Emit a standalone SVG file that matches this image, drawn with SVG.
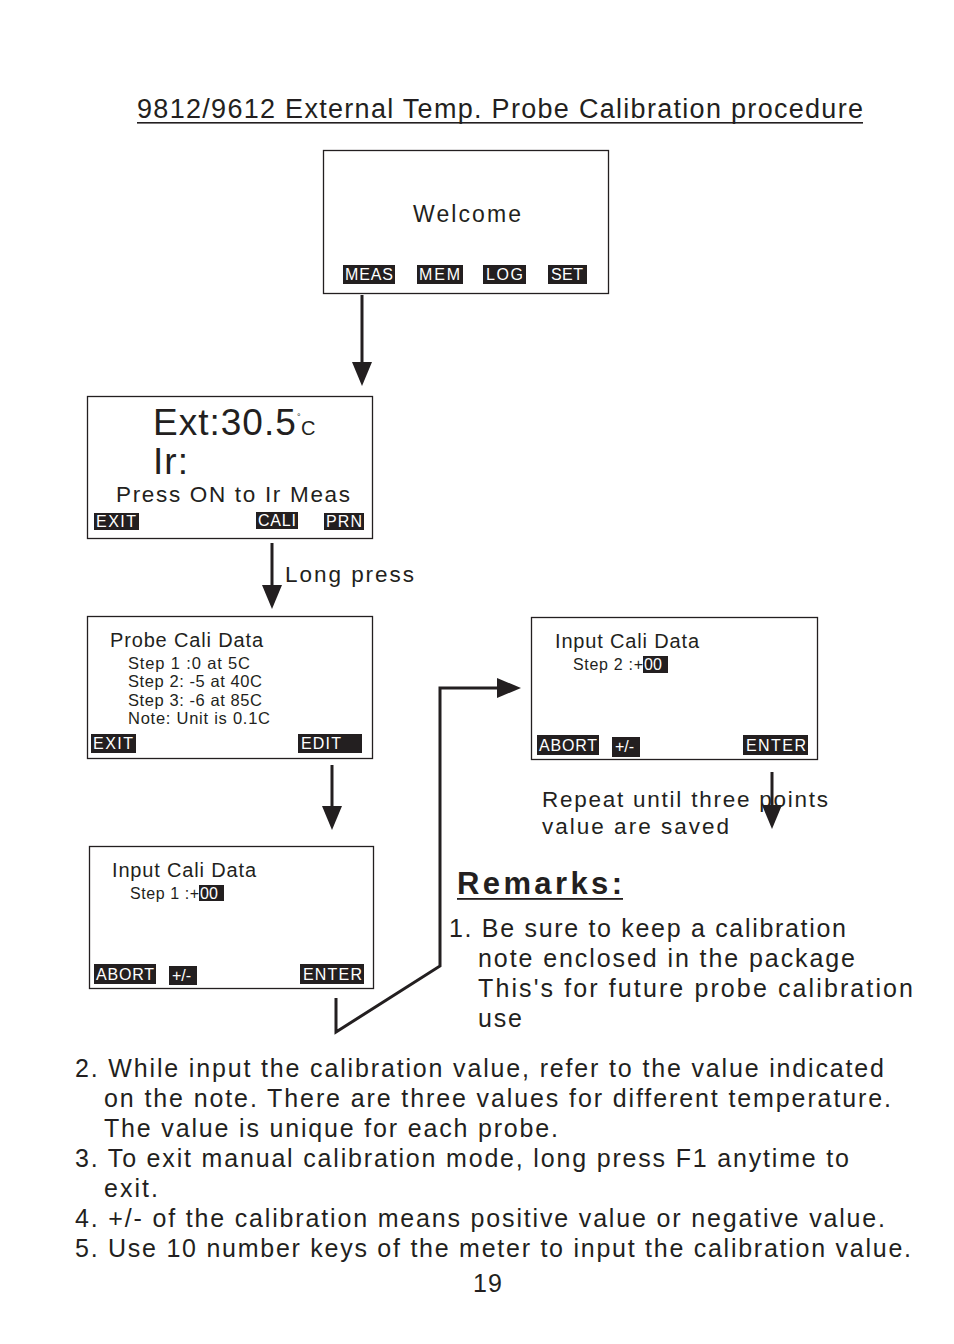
<svg xmlns="http://www.w3.org/2000/svg" width="954" height="1344" viewBox="0 0 954 1344">
<style>
text{font-family:"Liberation Sans",Arial,sans-serif;fill:#231f20}
.box{fill:#fff;stroke:#231f20;stroke-width:1.3}
.bk{fill:#231f20}
.btn{fill:#fff;font-size:16px}
.ln{fill:none;stroke:#231f20;stroke-width:3}
.t23{font-size:25px}
</style>
<defs>
<marker id="ah" markerUnits="userSpaceOnUse" markerWidth="26" markerHeight="22" refX="1" refY="10" orient="auto" viewBox="0 0 26 22">
<path d="M0,0 L24,10 L0,20 z" fill="#231f20"/>
</marker>
</defs>
<rect width="954" height="1344" fill="#fff"/>
<g id="title">
<text x="137" y="118" font-size="27" textLength="726" lengthAdjust="spacing">9812/9612 External Temp. Probe  Calibration procedure</text>
<rect x="137" y="122" width="726" height="1.6" class="bk"/>
</g>
<g id="welcome">
<rect x="323.5" y="150.5" width="285" height="143" class="box"/>
<text x="413" y="222" font-size="23" textLength="108" lengthAdjust="spacing">Welcome</text>
<rect x="343" y="265" width="52" height="19" class="bk"/>
<text x="345" y="280" class="btn" textLength="48" lengthAdjust="spacing">MEAS</text>
<rect x="417" y="265" width="46" height="19" class="bk"/>
<text x="419" y="280" class="btn" textLength="41" lengthAdjust="spacing">MEM</text>
<rect x="483" y="265" width="43" height="19" class="bk"/>
<text x="486" y="280" class="btn" textLength="37" lengthAdjust="spacing">LOG</text>
<rect x="548" y="265" width="39" height="19" class="bk"/>
<text x="551" y="280" class="btn" textLength="32" lengthAdjust="spacing">SET</text>
</g>
<g id="measure">
<rect x="87.5" y="396.5" width="285" height="142" class="box"/>
<text x="153" y="435" font-size="37" letter-spacing="1">Ext:30.5<tspan font-size="9" x="297" dy="-15" letter-spacing="0">°</tspan><tspan font-size="20" x="301" dy="15" letter-spacing="0">C</tspan></text>
<text x="153" y="474" font-size="37" textLength="35" lengthAdjust="spacing">Ir:</text>
<text x="116" y="502" font-size="22.5" textLength="234" lengthAdjust="spacing">Press ON to Ir Meas</text>
<rect x="94" y="513" width="45" height="17" class="bk"/>
<text x="96" y="527" class="btn" textLength="40" lengthAdjust="spacing">EXIT</text>
<rect x="256" y="512" width="42" height="17" class="bk"/>
<text x="258" y="526" class="btn" textLength="38" lengthAdjust="spacing">CALI</text>
<rect x="324" y="513" width="40" height="17" class="bk"/>
<text x="326" y="527" class="btn" textLength="36" lengthAdjust="spacing">PRN</text>
</g>
<g id="probe-cali">
<rect x="87.5" y="616.5" width="285" height="142" class="box"/>
<text x="110" y="647" font-size="20" textLength="153" lengthAdjust="spacing">Probe Cali Data</text>
<text x="128" y="669" font-size="16.5" textLength="122" lengthAdjust="spacing">Step 1 :0 at  5C</text>
<text x="128" y="687" font-size="16.5" textLength="134" lengthAdjust="spacing">Step 2: -5 at 40C</text>
<text x="128" y="706" font-size="16.5" textLength="134" lengthAdjust="spacing">Step 3: -6 at 85C</text>
<text x="128" y="724" font-size="16.5" textLength="142" lengthAdjust="spacing">Note: Unit is 0.1C</text>
<rect x="91" y="734" width="45" height="19" class="bk"/>
<text x="93" y="749" class="btn" textLength="40" lengthAdjust="spacing">EXIT</text>
<rect x="298" y="734" width="64" height="19" class="bk"/>
<text x="301" y="749" class="btn" textLength="40" lengthAdjust="spacing">EDIT</text>
</g>
<g id="input-step1">
<rect x="89.5" y="846.5" width="284" height="142" class="box"/>
<text x="112" y="877" font-size="20" textLength="144" lengthAdjust="spacing">Input Cali Data</text>
<text x="130" y="899" font-size="16" textLength="69" lengthAdjust="spacing">Step 1 :+</text>
<rect x="199" y="885" width="25" height="16" class="bk"/>
<text x="200" y="899" class="btn" font-size="16">00</text>
<rect x="94" y="964" width="62" height="20" class="bk"/>
<text x="96" y="980" class="btn" textLength="58" lengthAdjust="spacing">ABORT</text>
<rect x="169" y="966" width="28" height="19" class="bk"/>
<text x="172" y="981" class="btn" font-size="14">+/-</text>
<rect x="300" y="964" width="64" height="20" class="bk"/>
<text x="303" y="980" class="btn" textLength="59" lengthAdjust="spacing">ENTER</text>
</g>
<g id="input-step2">
<rect x="531.5" y="617.5" width="286" height="142" class="box"/>
<text x="555" y="648" font-size="20" textLength="144" lengthAdjust="spacing">Input Cali Data</text>
<text x="573" y="670" font-size="16" textLength="70" lengthAdjust="spacing">Step 2 :+</text>
<rect x="643" y="656" width="25" height="17" class="bk"/>
<text x="644" y="670" class="btn" font-size="16">00</text>
<rect x="537" y="735" width="62" height="20" class="bk"/>
<text x="539" y="751" class="btn" textLength="58" lengthAdjust="spacing">ABORT</text>
<rect x="612" y="737" width="28" height="20" class="bk"/>
<text x="615" y="752" class="btn" font-size="14">+/-</text>
<rect x="743" y="735" width="65" height="20" class="bk"/>
<text x="746" y="751" class="btn" textLength="60" lengthAdjust="spacing">ENTER</text>
</g>
<g id="connectors">
<line x1="362" y1="295" x2="362" y2="363" class="ln" marker-end="url(#ah)"/>
<line x1="272" y1="543" x2="272" y2="586" class="ln" marker-end="url(#ah)"/>
<line x1="332" y1="765" x2="332" y2="807" class="ln" marker-end="url(#ah)"/>
<polyline points="336,998 336,1032 440,966 440,688 498,688" class="ln" marker-end="url(#ah)"/>
<line x1="772" y1="772" x2="772" y2="806" class="ln" marker-end="url(#ah)"/>
</g>
<g id="labels">
<text x="285" y="582" font-size="22.5" textLength="129" lengthAdjust="spacing">Long press</text>
<text x="542" y="807" font-size="22.5" textLength="286" lengthAdjust="spacing">Repeat until three points</text>
<text x="542" y="834" font-size="22.5" textLength="187" lengthAdjust="spacing">value are saved</text>
</g>
<g id="remarks">
<text x="457" y="894" font-size="31" font-weight="bold" textLength="165" lengthAdjust="spacing">Remarks:</text>
<rect x="457" y="898" width="166" height="1.8" class="bk"/>
<text x="449" y="937" class="t23" textLength="397" lengthAdjust="spacing">1. Be sure to keep a calibration</text>
<text x="478" y="967" class="t23" textLength="377" lengthAdjust="spacing">note enclosed in the package</text>
<text x="478" y="997" class="t23" textLength="435" lengthAdjust="spacing">This's for future  probe calibration</text>
<text x="478" y="1027" class="t23" textLength="44" lengthAdjust="spacing">use</text>
<text x="75" y="1077" class="t23" textLength="809" lengthAdjust="spacing">2. While input the calibration value, refer to the value indicated</text>
<text x="104" y="1107" class="t23" textLength="787" lengthAdjust="spacing">on the note. There are three values for different temperature.</text>
<text x="104" y="1137" class="t23" textLength="454" lengthAdjust="spacing">The value is unique for each probe.</text>
<text x="75" y="1167" class="t23" textLength="774" lengthAdjust="spacing">3. To exit manual calibration mode, long press F1 anytime to</text>
<text x="104" y="1197" class="t23" textLength="54" lengthAdjust="spacing">exit.</text>
<text x="75" y="1227" class="t23" textLength="810" lengthAdjust="spacing">4. +/- of the calibration means positive value or negative value.</text>
<text x="75" y="1257" class="t23" textLength="836" lengthAdjust="spacing">5. Use 10 number keys of the meter to input the calibration value.</text>
<text x="473" y="1292" class="t23" textLength="29" lengthAdjust="spacing">19</text>
</g>
</svg>
